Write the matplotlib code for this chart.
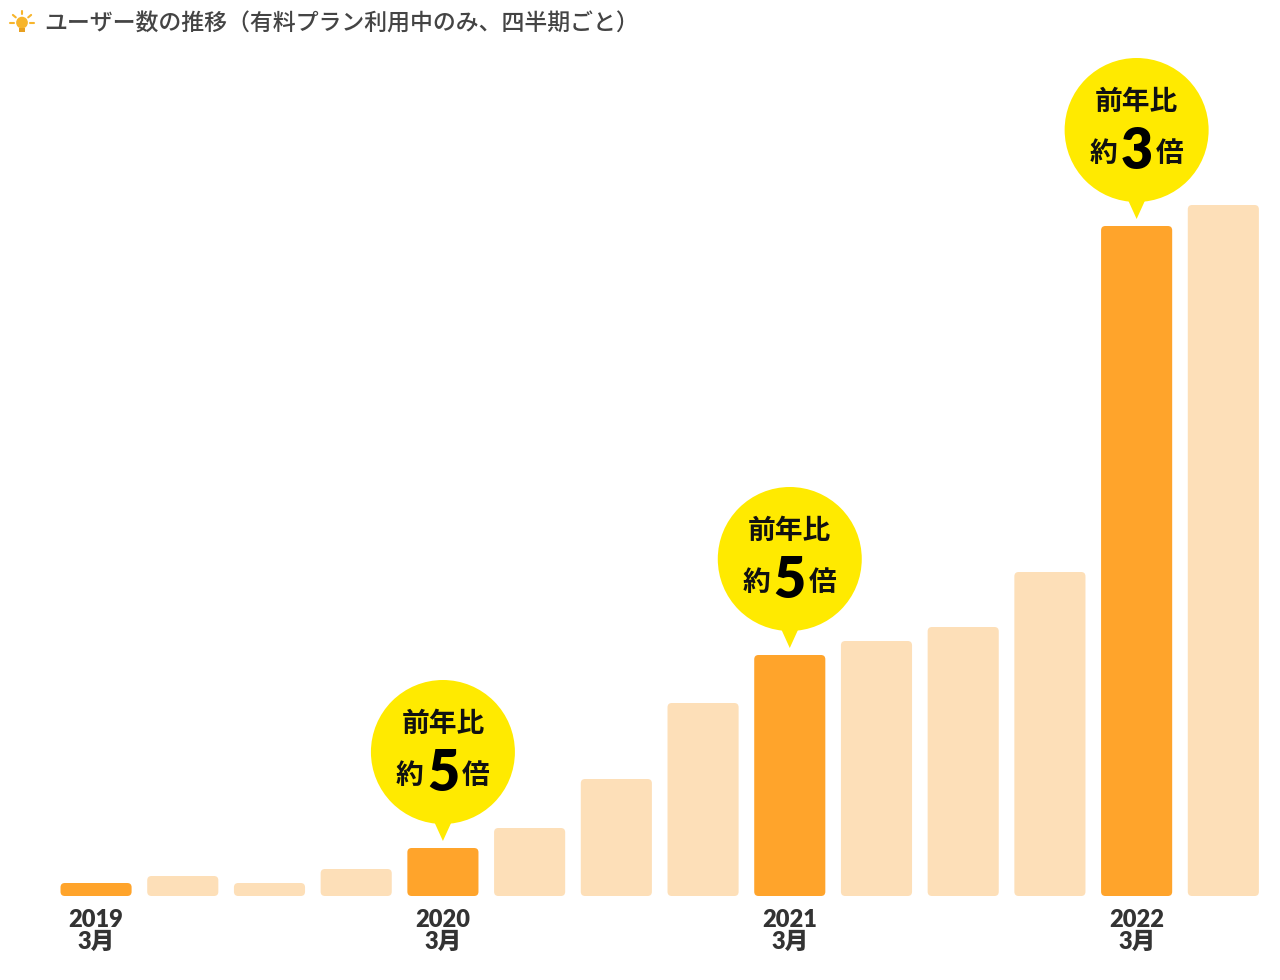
import numpy as np
import matplotlib as mpl
mpl.use('Agg')
from matplotlib import pyplot as plt
from matplotlib import patches
from matplotlib import transforms as mtransforms

# ユーザー数（四半期ごと、相対値）
quarters = ["2019/03", "2019/06", "2019/09", "2019/12",
            "2020/03", "2020/06", "2020/09", "2020/12",
            "2021/03", "2021/06", "2021/09", "2021/12",
            "2022/03", "2022/06"]
users = [13, 20, 13, 27, 48, 68, 117, 193, 241, 255, 269, 324, 670, 691]
highlight = [0, 4, 8, 12]
tick_labels = ["2019\n3月", "2020\n3月", "2021\n3月", "2022\n3月"]
# 吹き出し（前年比）
callout_idx = [4, 8, 12]
callout_ratio = ["5", "5", "3"]

DARK = "#FFA42B"
LIGHT = "#FDDFB8"
YELLOW = "#FFEA00"
TEXT = "#333333"
NUM_FONT = ['Lato', 'Noto Sans CJK JP', 'DejaVu Sans']


def main():
    plt.rcParams['font.family'] = ['Noto Sans CJK JP', 'DejaVu Sans']

    fig = plt.figure(figsize=(12.8, 9.8), dpi=100)
    ax = fig.add_axes([52.7 / 1280, 84 / 980, 1214 / 1280, 846 / 980])

    x = np.arange(len(users))
    colors = [DARK if i in highlight else LIGHT for i in x]
    bars = ax.bar(x, users, width=0.82, color=colors)

    ax.set_xlim(-0.5, len(users) - 0.5)
    ax.set_ylim(0, 846)

    # -- 角丸バーに置き換え --
    aspect = (846 / 846) / (1 / 86.7)
    for b, c in zip(bars, colors):
        b.set_visible(False)
        p = patches.FancyBboxPatch((b.get_x(), 0), b.get_width(), b.get_height(),
                                   boxstyle="round,pad=0,rounding_size=0.05",
                                   mutation_aspect=aspect, fc=c, ec="none")
        ax.add_patch(p)

    # -- 吹き出し --
    for i, r in zip(callout_idx, callout_ratio):
        t = fig.dpi_scale_trans + mtransforms.ScaledTranslation(i, users[i], ax.transData)
        cy = 0.96
        ax.add_patch(patches.Circle((0, cy), 0.72, transform=t, fc=YELLOW, ec="none",
                                    clip_on=False))
        ax.add_patch(patches.Polygon([(-0.15, 0.40), (0.15, 0.40), (0, 0.07)],
                                     transform=t, fc=YELLOW, ec="none", clip_on=False))
        ax.text(0, cy + 0.28, "前年比", transform=t, ha="center", va="center",
                fontsize=20, fontweight="bold", color="#111111")
        ax.text(-0.33, cy - 0.24, "約", transform=t, ha="center", va="center",
                fontsize=20, fontweight="bold", color="#111111")
        ax.text(0, cy - 0.22, r, transform=t, ha="center", va="center",
                fontsize=40, fontweight="heavy", color="#000000", family=NUM_FONT)
        ax.text(0.33, cy - 0.24, "倍", transform=t, ha="center", va="center",
                fontsize=20, fontweight="bold", color="#111111")

    ax.set_xticks(highlight)
    ax.set_xticklabels(tick_labels, fontsize=17, fontweight="heavy", color=TEXT,
                       linespacing=1.05, family=NUM_FONT)
    ax.tick_params(axis="x", length=0, pad=9)
    ax.set_yticks([])
    for s in ax.spines.values():
        s.set_visible(False)

    # -- タイトルとアイコン --
    fig.text(44 / 1280, 1 - 24 / 980, "ユーザー数の推移（有料プラン利用中のみ、四半期ごと）",
             ha="left", va="center", fontsize=16.5, color="#444444", fontweight="medium")
    icon = fig.add_axes([8 / 1280, 1 - 38 / 980, 28 / 1280, 28 / 980])
    icon.set_xlim(-1, 1)
    icon.set_ylim(-1, 1)
    icon.set_aspect("equal")
    icon.axis("off")
    icon.add_patch(patches.Circle((0, 0.1), 0.42, fc="#F7B52C", ec="none"))
    icon.add_patch(patches.Rectangle((-0.2, -0.6), 0.4, 0.3, fc="#E8A020", ec="none"))
    for a in np.deg2rad([0, 40, 90, 140, 180]):
        icon.plot([0.58 * np.cos(a), 0.85 * np.cos(a)],
                  [0.1 + 0.58 * np.sin(a), 0.1 + 0.85 * np.sin(a)],
                  color="#F7B52C", lw=1.5, solid_capstyle="round")

    plt.savefig("out.png", dpi=100)


if __name__ == "__main__":
    main()
